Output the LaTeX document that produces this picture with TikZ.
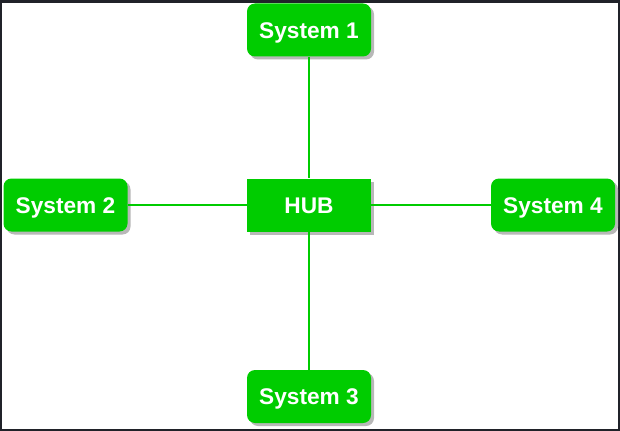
\documentclass[tikz,border=0pt]{standalone}
\usepackage{fontspec}
\setmainfont{Liberation Sans}
\usetikzlibrary{shadows}
\definecolor{hubgreen}{HTML}{00CC00}
\definecolor{framedark}{HTML}{202229}
\begin{document}
\begin{tikzpicture}[
      x=0.75pt,
      y=-0.75pt,
      box shadow/.style={drop shadow={shadow xshift=2.25pt,shadow yshift=-2.25pt,fill=black!28,opacity=1}},
      system node/.style={fill=hubgreen,text=white,font=\fontsize{17}{20}\selectfont\bfseries,
        rounded corners=6pt,minimum width=93pt,minimum height=39.75pt,inner sep=0pt,
        text height=12.2pt,text depth=0pt,box shadow},
      hub node/.style={system node,rounded corners=0pt},
      link/.style={hubgreen,line width=0.8pt}
      ]
      % frame
      \fill [framedark] (0,0) rectangle (620,431);
      \fill [white] (2,3) rectangle (618,429);
      \useasboundingbox (0,0) rectangle (620,431);
      % nodes
      \node [hub node] (hub) at (309,205) {HUB};
      \node [system node] (sys1) at (309,30) {System 1};
      \node [system node] (sys2) at (65.5,205) {System 2};
      \node [system node] (sys3) at (309,396.5) {System 3};
      \node [system node] (sys4) at (553,205) {System 4};
      % links
      \draw [link] (hub) -- (sys1);
      \draw [link] (hub) -- (sys2);
      \draw [link] (hub) -- (sys3);
      \draw [link] (hub) -- (sys4);
    \end{tikzpicture}
\end{document}
